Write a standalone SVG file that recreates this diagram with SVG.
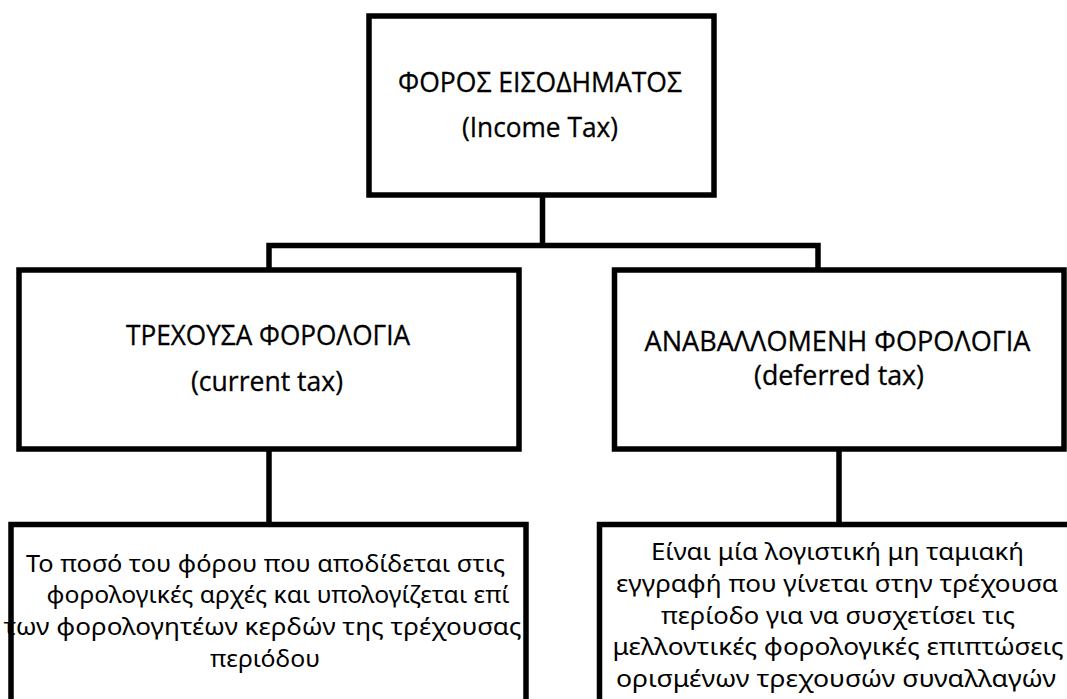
<svg xmlns="http://www.w3.org/2000/svg" width="1067" height="699" viewBox="0 0 1067 699">
<style>
.box{fill:#ffffff;stroke:#000000;stroke-width:5.5}
.conn{fill:none;stroke:#000000;stroke-width:5.5;stroke-linejoin:miter;stroke-linecap:butt}
.hd{font-family:"Open Sans","Noto Sans","DejaVu Sans",sans-serif;font-size:27px;fill:#000000;stroke:#000000;stroke-width:0.3}
.bd{font-family:"Noto Sans","DejaVu Sans",sans-serif;font-size:23px;fill:#000000}
</style>
<rect x="0" y="0" width="1067" height="699" fill="#ffffff"/>
<g id="connectors">
<path class="conn" d="M269 270 V245.5 H818 V270 M542.5 195 V245.5 M269 449 V524.5 M839 449 V524.5"/>
</g>
<g id="income-tax">
<rect class="box" x="369" y="16" width="345" height="179"/>
<text class="hd" x="398" y="92" textLength="284" lengthAdjust="spacingAndGlyphs">ΦΟΡΟΣ ΕΙΣΟΔΗΜΑΤΟΣ</text>
<text class="hd" x="462" y="137" textLength="156" lengthAdjust="spacingAndGlyphs">(Income Tax)</text>
</g>
<g id="current-tax">
<rect class="box" x="19" y="270" width="500" height="179"/>
<text class="hd" x="126" y="345" textLength="284" lengthAdjust="spacingAndGlyphs">ΤΡΕΧΟΥΣΑ ΦΟΡΟΛΟΓΙΑ</text>
<text class="hd" x="191" y="391" textLength="152" lengthAdjust="spacingAndGlyphs">(current tax)</text>
</g>
<g id="deferred-tax">
<rect class="box" x="614.5" y="270" width="449.5" height="179"/>
<text class="hd" x="644.5" y="351" textLength="386" lengthAdjust="spacingAndGlyphs">ΑΝΑΒΑΛΛΟΜΕΝΗ ΦΟΡΟΛΟΓΙΑ</text>
<text class="hd" x="754" y="385" textLength="170" lengthAdjust="spacingAndGlyphs">(deferred tax)</text>
</g>
<g id="current-desc">
<rect class="box" x="11" y="524.5" width="515" height="200"/>
<text class="bd" x="26" y="572" textLength="479" lengthAdjust="spacingAndGlyphs">Το ποσό του φόρου που αποδίδεται στις</text>
<text class="bd" x="46.5" y="603" textLength="463" lengthAdjust="spacingAndGlyphs">φορολογικές αρχές και υπολογίζεται επί</text>
<text class="bd" x="3.5" y="635" textLength="518" lengthAdjust="spacingAndGlyphs">των φορολογητέων κερδών της τρέχουσας</text>
<text class="bd" x="210" y="667" textLength="110" lengthAdjust="spacingAndGlyphs">περιόδου</text>
</g>
<g id="deferred-desc">
<rect class="box" x="599.5" y="524.5" width="500" height="200"/>
<text class="bd" x="651" y="560" textLength="373" lengthAdjust="spacingAndGlyphs">Είναι μία λογιστική μη ταμιακή</text>
<text class="bd" x="616" y="592" textLength="442" lengthAdjust="spacingAndGlyphs">εγγραφή που γίνεται στην τρέχουσα</text>
<text class="bd" x="661" y="623.5" textLength="354" lengthAdjust="spacingAndGlyphs">περίοδο για να συσχετίσει τις</text>
<text class="bd" x="612.5" y="655" textLength="451" lengthAdjust="spacingAndGlyphs">μελλοντικές φορολογικές επιπτώσεις</text>
<text class="bd" x="616" y="687" textLength="440" lengthAdjust="spacingAndGlyphs">ορισμένων τρεχουσών συναλλαγών</text>
</g>
</svg>
